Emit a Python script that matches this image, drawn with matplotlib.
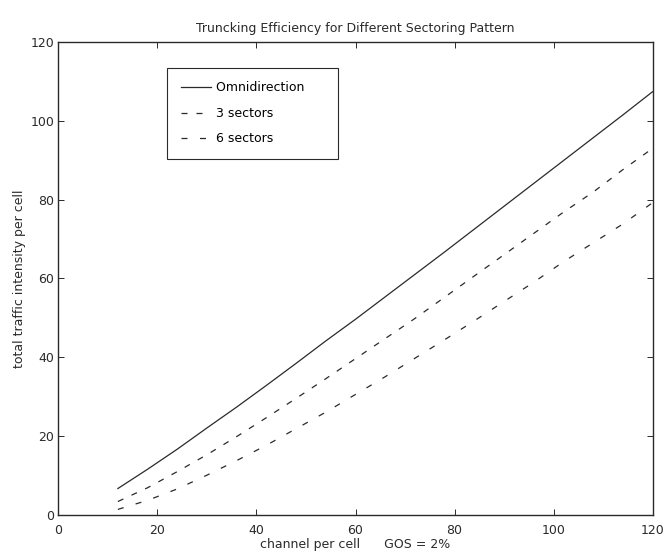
import numpy as np
import matplotlib
matplotlib.use("Agg")
import matplotlib.pyplot as plt

#---------------------------------------------------------------------#
# values (GOS = 2 %)
channels = [12, 18, 24, 30, 36, 42, 48, 54, 60, 66, 72, 78, 84, 90, 96, 102, 108, 114, 120]
omni = [6.6, 11.5, 16.6, 22.0, 27.3, 32.8, 38.4, 44.1, 49.6, 55.3, 61.0, 66.7,
        72.5, 78.3, 84.1, 89.9, 95.7, 101.5, 107.4]
sect3 = [3.3, 6.8, 10.9, 15.2, 19.8, 24.6, 29.5, 34.5, 39.6, 44.7, 49.8, 55.2,
         60.6, 66.0, 71.4, 76.8, 81.9, 87.6, 93.0]
sect6 = [1.3, 3.6, 6.5, 10.0, 13.7, 17.6, 21.8, 26.0, 30.5, 35.0, 39.7, 44.4,
         49.2, 54.1, 59.0, 64.2, 69.0, 73.8, 79.2]
xticks = [0, 20, 40, 60, 80, 100, 120]
yticks = [0, 20, 40, 60, 80, 100, 120]
#---------------------------------------------------------------------#

plt.rcParams['font.family'] = ['DejaVu Sans']
ink = '#2a2a2a'

fig = plt.figure(figsize=(6.7, 5.57), dpi=100)
ax = fig.add_axes([0.0873, 0.0763, 0.8866, 0.848])

ax.plot(channels, omni, color=ink, lw=0.9, label='Omnidirection     ')
ax.plot(channels, sect3, color=ink, lw=0.9, dashes=(4.8, 7.2), label='3 sectors')
ax.plot(channels, sect6, color=ink, lw=0.9, dashes=(4.8, 10), label='6 sectors')

ax.set_xlim(0, 120)
ax.set_ylim(0, 120)
ax.set_xticks(xticks)
ax.set_yticks(yticks)
ax.tick_params(direction='in', length=4, width=0.7, labelsize=9,
               top=True, right=True, colors=ink)
ax.tick_params(axis='x', pad=6.5)
ax.tick_params(axis='y', pad=3)
for s in ax.spines.values():
    s.set_linewidth(1.0)
    s.set_color(ink)

ax.set_title('Truncking Efficiency for Different Sectoring Pattern',
             fontsize=9, color=ink, pad=7)
ax.set_xlabel('channel per cell      GOS = 2%', fontsize=9, color=ink, labelpad=1)
ax.set_ylabel('total traffic intensity per cell', fontsize=9, color=ink, labelpad=3)

leg = ax.legend(loc='upper left', bbox_to_anchor=(0.183, 0.946), fontsize=9,
                handlelength=2.4, handletextpad=0.4, labelspacing=1.0,
                borderpad=1.1, borderaxespad=0, fancybox=False, framealpha=1)
leg.get_frame().set_edgecolor(ink)
leg.get_frame().set_linewidth(0.8)

fig.savefig('out.png', dpi=100)
